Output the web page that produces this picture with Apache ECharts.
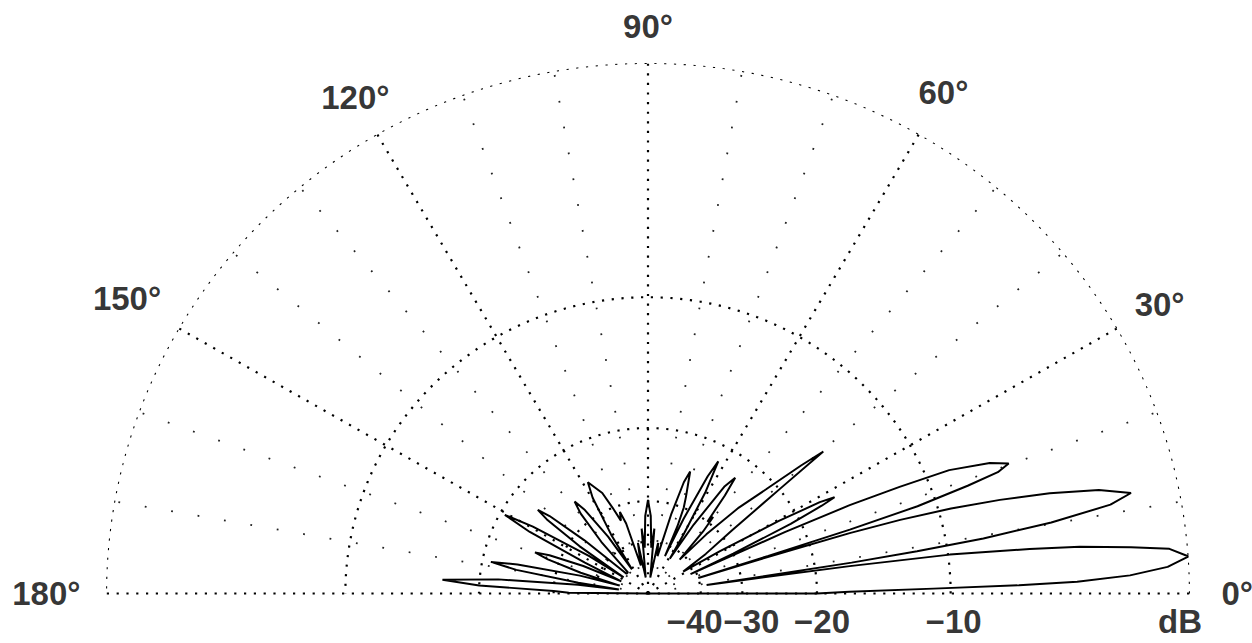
<!DOCTYPE html>
<html><head><meta charset="utf-8">
<script src="https://cdn.jsdelivr.net/npm/echarts@6/dist/echarts.min.js"></script>
<style>
html,body{margin:0;padding:0;background:#fff;overflow:hidden;width:1252px;height:643px}
#c{position:absolute;left:0;top:-30px;width:1252px;height:673px;transform-origin:648px 623.5px;transform:scaleY(0.979);}
</style></head><body><div id="c"></div>
<script>
// ---- data ----
const angleTicks = [0, 30, 60, 90, 120, 150, 180];
const angleLabels = ['0°', '30°', '60°', '90°', '120°', '150°', '180°'];
const dbRings = [0, -10, -20, -30, -40];
const dbLabels = ['dB', '−10', '−20', '−30', '−40'];
const minorSpokes = [10, 20, 40, 50, 70, 80, 100, 110, 130, 140, 160, 170];
// elevation pattern trace: angle (deg) and relative gain (dB)
const patternAngles = [
  0, 0, 0.5, 1, 1.3, 1.6, 2.2, 3, 4, 5, 5.6, 6.3, 6.8, 7.5, 7.9, 8.2, 8.4,
  8.6, 8.8, 9.1, 9.5, 10.2, 11.1, 12, 13.2, 14.3, 15.2, 16, 16.6, 17, 17.3, 17.5,
  17.7, 17.9, 18.3, 19, 19.5, 20.2, 21.3, 22.7, 23.4, 24.1, 24.6, 25,
  25.5, 26.5, 27.3, 27.8, 28.5, 29.5, 31, 32.5,
  35, 37.5, 39, 39.6, 40.5, 42, 44, 46, 47.5,
  49, 50.2, 51, 52.5, 53.6, 55, 57, 58.5,
  59.5, 61, 62.5, 63.5, 65, 66,
  66.8, 67.8, 69, 71.3, 72.5, 74, 76, 79, 82,
  84.5, 86, 88, 90, 92, 94, 95.5, 98,
  101, 104, 107, 108.6, 110, 112, 114, 117.9, 119.5, 121.5, 123,
  124.5, 126.5, 128, 129.5, 131.5, 133,
  137, 139.5, 141.2, 142.2, 143.2, 144.8, 146,
  147, 149.3, 150.7, 152, 153.5, 155,
  156.5, 158.4, 159.6, 160.8, 162.5, 164,
  165, 167.2, 168.4, 169.6, 171, 172,
  172.8, 174.5, 176.1, 177.2, 178.5, 179.5, 180, 180
];
const patternDb = [
  -99, -20, -17, -11, -6.5, -4, -2, -0.7, 0, -0.6, -1.9, -3.8, -5.9, -9.9, -16.8, -28, -38,
  -28, -16.6, -11.8, -8, -4.8, -2.4, -1.6, -2.7, -4.6, -6.8, -9.3, -12.4, -16.2, -25, -40,
  -25, -16.1, -11.1, -8.1, -6.5, -5.9, -6.7, -8.7, -11.7, -15.4, -22, -42,
  -30, -21, -17.5, -16.2, -17.5, -22, -32, -44,
  -35, -28, -20, -14.9, -17, -21, -25, -32, -42,
  -32, -28.7, -30, -25, -22.4, -24, -32, -44,
  -35, -26, -21.8, -24, -32, -44,
  -34, -30, -28, -24.3, -26, -32, -45, -40, -60,
  -36, -42, -33, -29.8, -33, -42, -36, -60,
  -40, -50, -34, -31.2, -33, -30, -27, -24.7, -27, -35, -50,
  -35, -28, -26, -28, -35, -50,
  -50, -32, -25, -23.3, -25, -32, -50,
  -35, -24, -20.5, -24, -35, -50,
  -35, -28, -25.8, -28, -35, -50,
  -35, -24, -20.9, -24, -35, -50,
  -35, -22, -16.6, -20, -30, -33, -33, -99
];

// ---- ARRL log-periodic radial scale: each 2 dB -> x0.89 radius ----
function toR(db) { return db <= -99 ? 0 : Math.pow(0.89, -db / 2); }

// ---- styles ----
const FONT = 'Liberation Sans';
const dotStyle = { color: '#000', width: 2.2, type: [2.2, 7.6] };
const sparseStyle = { color: '#222', width: 1.8, type: [1.8, 25] };
const labelRadius = { 0: 1.087, 30: 1.09, 60: 1.09, 90: 1.068, 120: 1.08, 150: 1.11, 180: 1.11 };
const dbLabelShift = [-10, 3, 5, 9, -6];

const series = [];
function lineSeries(data, style, z) {
  return { type: 'line', coordinateSystem: 'polar', data: data, showSymbol: false, symbol: 'none',
    lineStyle: style, silent: true, z: z, clip: false, animation: false };
}
minorSpokes.forEach(a => series.push(lineSeries([[0, a], [1, a]], sparseStyle, 1)));
[0, 30, 60, 90, 120, 150, 180].forEach(a => series.push(lineSeries([[0, a], [1, a]], dotStyle, 2)));
dbRings.forEach(db => {
  const pts = [];
  for (let a = 0; a <= 180; a += 1) pts.push([toR(db), a]);
  series.push(lineSeries(pts, dotStyle, 2));
});
series.push(lineSeries(patternAngles.map((a, i) => [toR(patternDb[i]), a]),
  { color: '#000', width: 2, type: 'solid' }, 5));

const labelCommon = { show: true, position: 'inside', fontFamily: FONT, fontSize: 33, fontWeight: 'bold', color: '#000' };
series.push({
  type: 'scatter', coordinateSystem: 'polar', symbolSize: 1, itemStyle: { color: 'rgba(0,0,0,0)' },
  silent: true, animation: false, z: 6, clip: false,
  data: angleTicks.map((a, i) => ({ value: [labelRadius[a], a], label: { formatter: angleLabels[i] } })),
  label: labelCommon
});
series.push({
  type: 'scatter', coordinateSystem: 'polar', symbolSize: 1, itemStyle: { color: 'rgba(0,0,0,0)' },
  silent: true, animation: false, z: 6, clip: false,
  data: dbRings.map((db, i) => ({ value: [toR(db), 0], label: { formatter: dbLabels[i], offset: [dbLabelShift[i], 29] } })),
  label: labelCommon
});

const chart = echarts.init(document.getElementById('c'), null, { renderer: 'svg' });
chart.setOption({
  backgroundColor: '#fff',
  animation: false,
  polar: { center: [648, 623.5], radius: 542 },
  angleAxis: { type: 'value', min: 0, max: 360, startAngle: 0, clockwise: false, show: false },
  radiusAxis: { type: 'value', min: 0, max: 1, show: false },
  series: series
});
</script></body></html>
